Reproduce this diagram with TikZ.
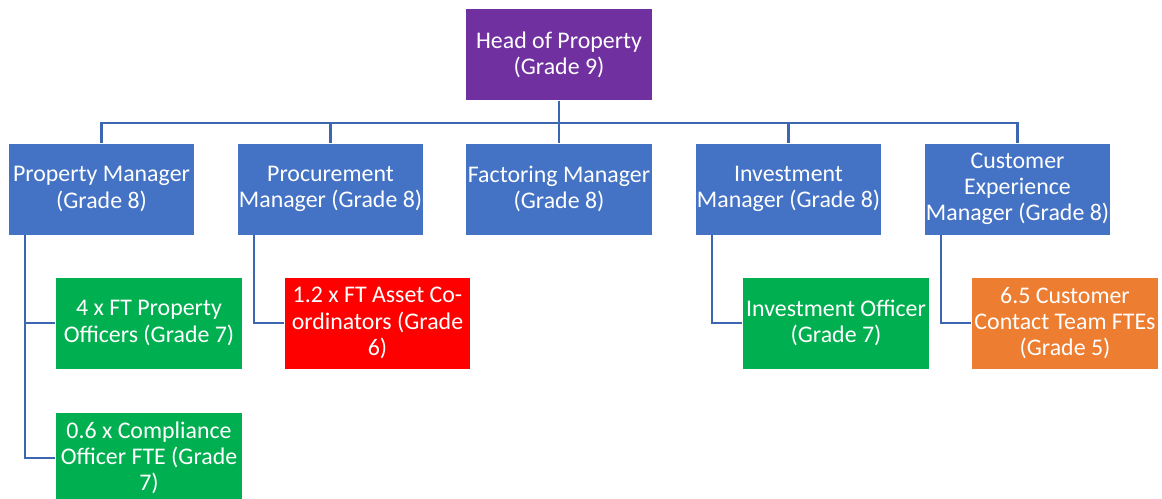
\documentclass[tikz,border=0pt]{standalone}
\usepackage{fontspec}
\setmainfont{Carlito}
\usetikzlibrary{positioning,calc}

\definecolor{mgrblue}{HTML}{4472C4}
\definecolor{headpurple}{HTML}{7030A0}
\definecolor{staffgreen}{HTML}{00B050}
\definecolor{staffred}{HTML}{FF0000}
\definecolor{stafforange}{HTML}{ED7D31}
\definecolor{linkblue}{HTML}{3D66B0}

\begin{document}
\begin{tikzpicture}[x=0.75pt,y=-0.75pt,
 font=\fontsize{17.9}{19.6}\selectfont,
 post/.style={draw=white,line width=0.6pt,align=center,text=white,inner sep=1pt,minimum width=140pt,minimum height=69pt},
 mgr/.style={post,fill=mgrblue},
 staff/.style={post,fill=staffgreen},
 link/.style={draw=linkblue,line width=2pt}]
\useasboundingbox (0,0) rectangle (1162,499);
\node[post,fill=headpurple] (head) at (559,54.5) {Head of Property\\(Grade 9)};
\node[mgr] (pm)  at (101.5,189) {Property Manager\\(Grade 8)};
\node[mgr] (prm) at (330.5,189) {Procurement\\Manager (Grade 8)};
\node[mgr] (fm)  at (559,189)   {Factoring Manager\\(Grade 8)};
\node[mgr] (im)  at (788.5,189) {Investment\\Manager (Grade 8)};
\node[mgr] (cxm) at (1017.5,189) {Customer\\Experience\\Manager (Grade 8)};
\node[staff] (po) at (149,323) {4 x FT Property\\Officers (Grade 7)};
\node[staff] (co) at (149,458) {0.6 x Compliance\\Officer FTE (Grade\\7)};
\node[post,fill=staffred] (ac) at (377.5,323) {1.2 x FT Asset Co-\\ordinators (Grade\\6)};
\node[staff] (io) at (836,323) {Investment Officer\\(Grade 7)};
\node[post,fill=stafforange] (ct) at (1065,323) {6.5 Customer\\Contact Team FTEs\\(Grade 5)};
% bus from the head down to each manager
\foreach \m in {pm,prm,fm,im,cxm}
 \draw[link] (head.south) -- ++(0,22) -| (\m.north);
% managers to their staff
\draw[link] ([xshift=13pt]pm.south west) |- (po.west);
\draw[link] ([xshift=13pt]pm.south west) |- (co.west);
\draw[link] ([xshift=13pt]prm.south west) |- (ac.west);
\draw[link] ([xshift=13pt]im.south west) |- (io.west);
\draw[link] ([xshift=13pt]cxm.south west) |- (ct.west);
\end{tikzpicture}
\end{document}
